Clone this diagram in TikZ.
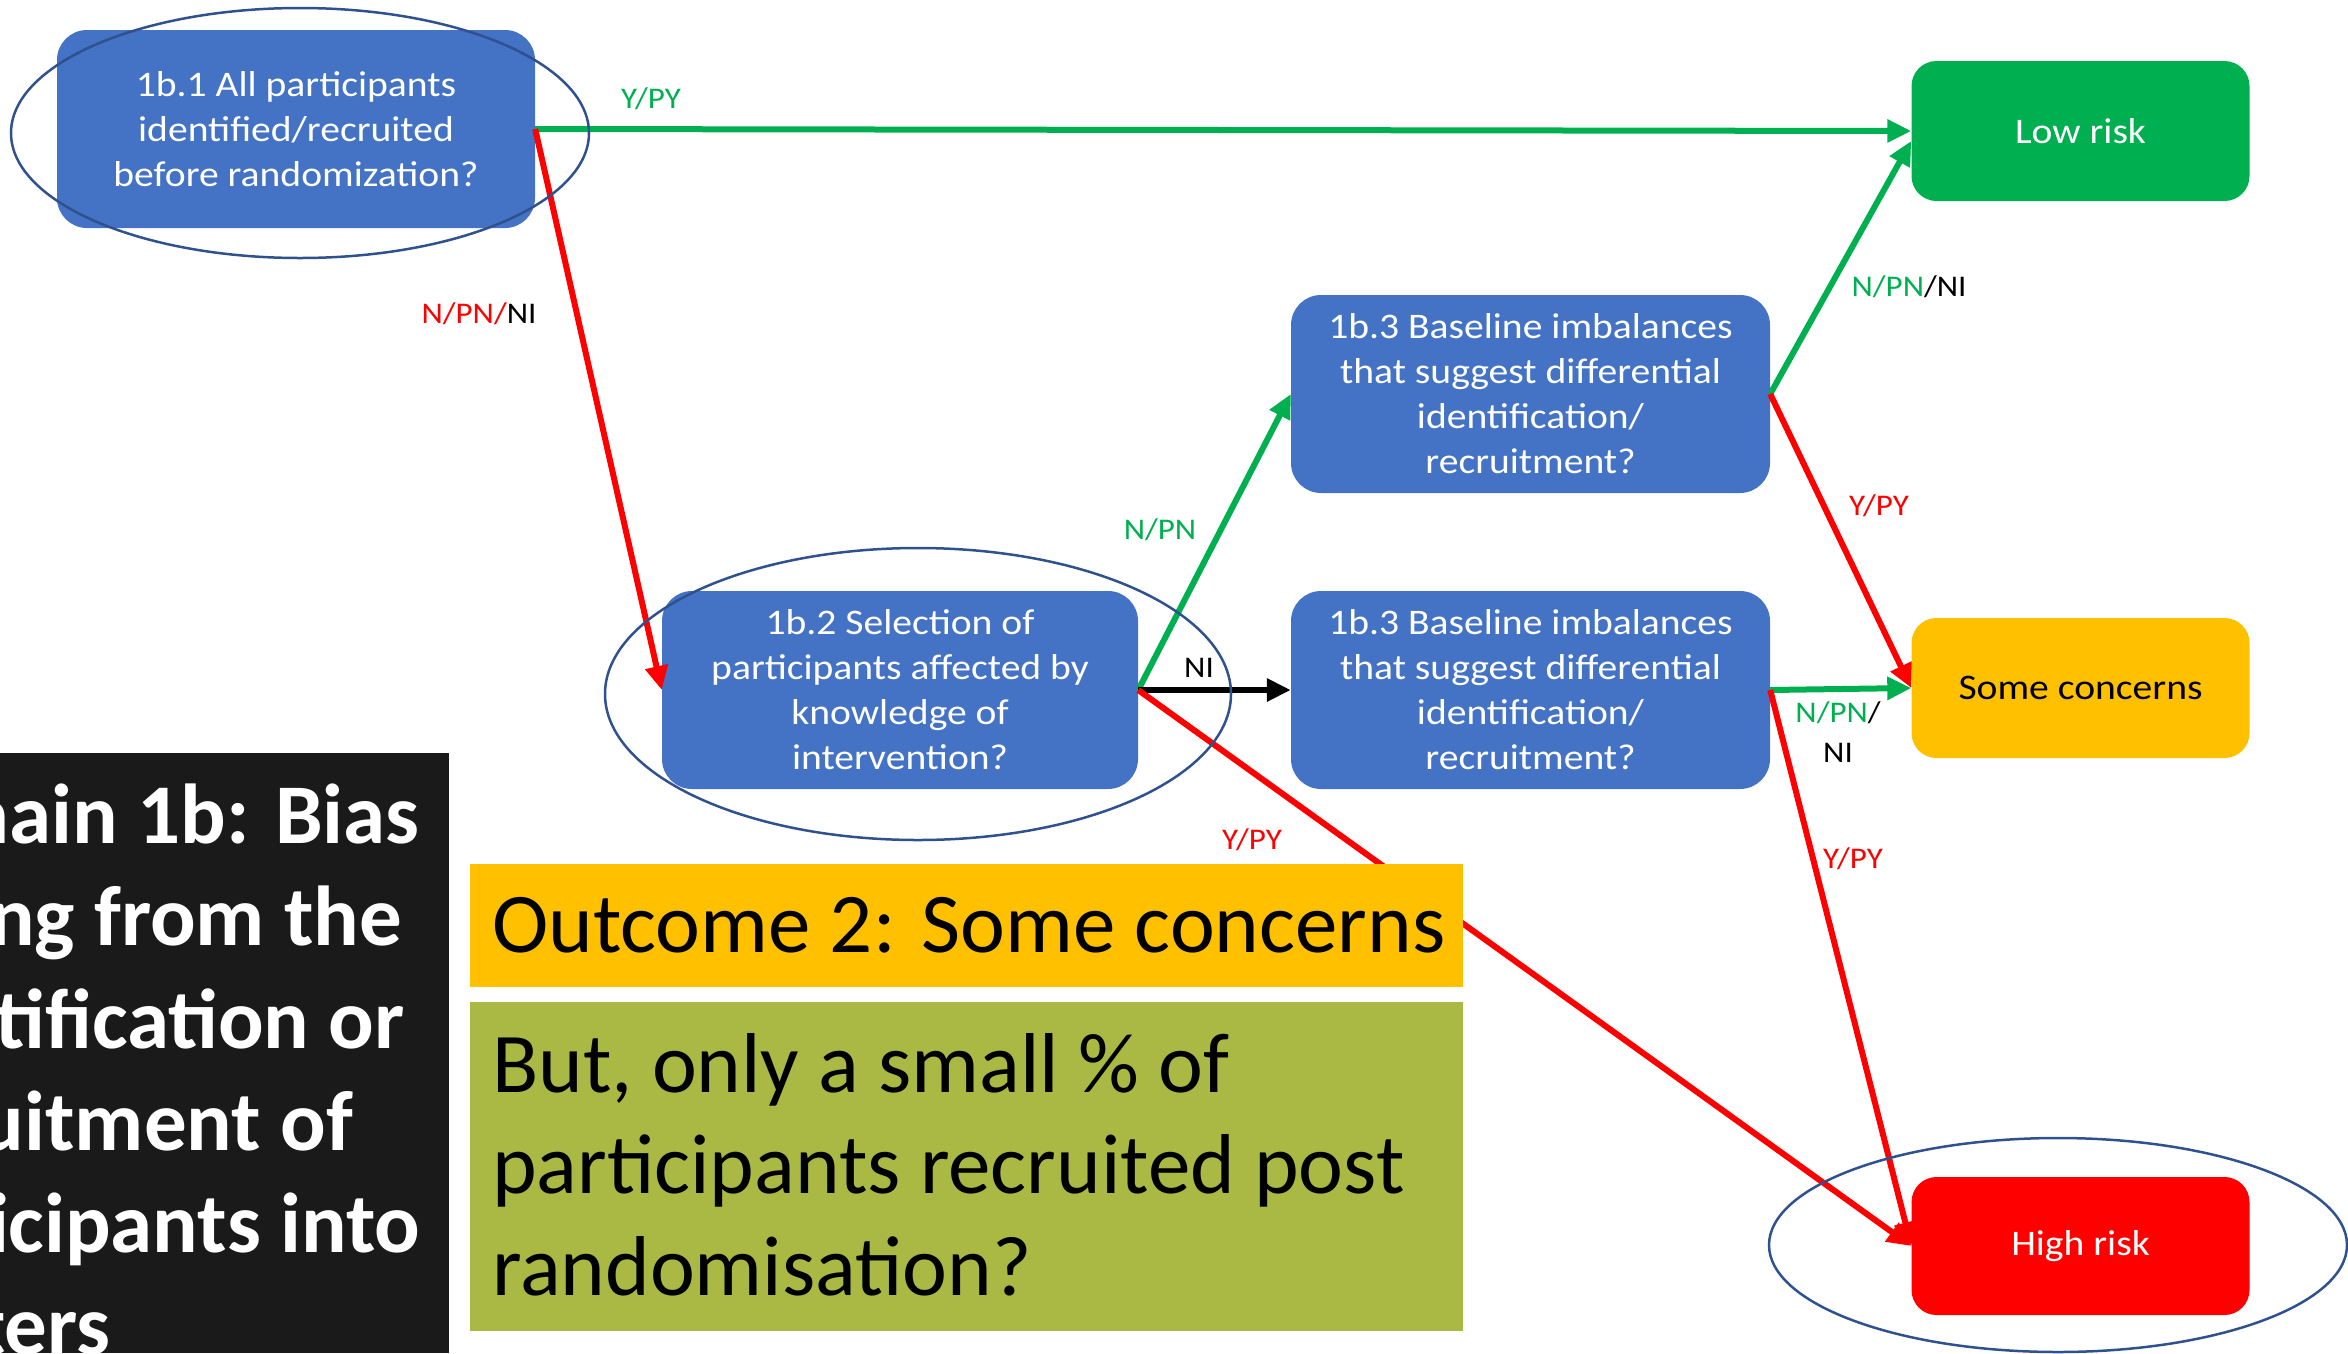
\documentclass[tikz,border=0pt]{standalone}
\usepackage{fontspec}
\setmainfont{Carlito}
\newfontfamily\boxfont[FakeStretch=1.1]{Carlito}
\usetikzlibrary{arrows.meta,shapes.geometric}

\definecolor{qblue}{HTML}{4472C4}
\definecolor{ringblue}{HTML}{2F528F}
\definecolor{okgreen}{HTML}{00B050}
\definecolor{alertred}{HTML}{FF0000}
\definecolor{amber}{HTML}{FFC000}
\definecolor{olivebox}{HTML}{A9B944}
\definecolor{panel}{HTML}{1A1A1A}

\begin{document}
\begin{tikzpicture}[x=1pt,y=-1pt,
  qbox/.style={fill=qblue, rounded corners=30pt, text=white, align=center,
    font=\boxfont\fontsize{36}{45}\selectfont,
    minimum width=478pt, minimum height=198pt, inner sep=0pt},
  riskbox/.style={fill=#1, rounded corners=25pt, align=center,
    font=\boxfont\fontsize{36}{45}\selectfont,
    minimum width=338pt, minimum height=140pt, inner sep=0pt},
  link/.style={line width=6pt, -{Triangle[length=24pt,width=22pt]}},
  lbl/.style={font=\boxfont\fontsize{30}{40}\selectfont, inner sep=0pt},
  ring/.style={draw=ringblue, line width=2.5pt, ellipse, inner sep=0pt},
  bigtext/.style={font=\fontsize{85}{102}\selectfont, inner sep=0pt, anchor=base west},
  paneltext/.style={font=\bfseries\fontsize{85}{102}\selectfont, text=white, inner sep=0pt, anchor=base west}
]
\useasboundingbox (0,0) rectangle (2348,1353);

% question boxes
\node[qbox] (b1) at (296,129) {1b.1 All participants\\identified/recruited\\before randomization?};
\node[qbox, minimum width=476pt] (b2) at (900,690) {1b.2 Selection of\\participants affected by\\knowledge of\\intervention?};
\node[qbox, minimum width=479pt] (t3) at (1530.5,394) {1b.3 Baseline imbalances\\that suggest differential\\identification/\\recruitment?};
\node[qbox, minimum width=479pt] (u3) at (1530.5,690) {1b.3 Baseline imbalances\\that suggest differential\\identification/\\recruitment?};

% judgement boxes
\node[riskbox=okgreen, text=white] (low) at (2080.5,131) {Low risk};
\node[riskbox=amber, text=black] (sc) at (2080.5,688) {Some concerns};
\node[riskbox=alertred, text=white, minimum height=138pt] (hr) at (2080.5,1246) {High risk};

% connectors
\draw[link, okgreen] (b1.east) -- (low.west);
\draw[link, alertred] (b1.east) -- (b2.west);
\draw[link, okgreen] (b2.east) -- (t3.west);
\draw[link, black] (b2.east) -- (u3.west);
\draw[link, alertred] (b2.east) -- (hr.west);
\draw[link, okgreen] (t3.east) -- ([yshift=-10pt]low.west);
\draw[link, alertred] (t3.east) -- (sc.west);
\draw[link, okgreen] (u3.east) -- (sc.west);
\draw[link, alertred] (u3.east) -- (hr.west);

% connector labels
\node[lbl, text=okgreen] (l1) at (651,99) {Y/PY};
\node[lbl] (l2) at (479,314) {\textcolor{alertred}{N/PN/}NI};
\node[lbl, text=okgreen] (l3) at (1160,530) {N/PN};
\node[lbl] (l4) at (1199,668) {NI};
\node[lbl, text=alertred] (l5) at (1252,840) {Y/PY};
\node[lbl] (l6) at (1909,287) {\textcolor{okgreen}{N/PN}/NI};
\node[lbl, text=alertred] (l7) at (1879,506) {Y/PY};
\node[lbl, align=center] (l8) at (1838,732) {\textcolor{okgreen}{N/PN}/\\NI};
\node[lbl, text=alertred] (l9) at (1853,859) {Y/PY};

% outcome panels
\node[fill=amber, anchor=north west, minimum width=993pt, minimum height=123pt, inner sep=0pt] (outc) at (470,864) {};
\node[bigtext] (outtxt) at (492,952) {Outcome 2: Some concerns};
\node[fill=olivebox, anchor=north west, minimum width=993pt, minimum height=329pt, inner sep=0pt] (note) at (470,1002) {};
\node[bigtext] (n1) at (492,1092) {But, only a small \% of};
\node[bigtext] (n2) at (492,1193) {participants recruited post};
\node[bigtext] (n3) at (492,1295) {randomisation?};

% domain title panel, its text running past the left and bottom edges
\node[fill=panel, anchor=north west, minimum width=449pt, minimum height=600pt, inner sep=0pt] (dom) at (0,753) {};
\begin{scope}
  \clip (dom.north west) rectangle (dom.south east);
  \node[paneltext] (d1) at (-159,843.5) {Domain 1b: Bias};
  \node[paneltext] (d2) at (-159,945) {arising from the};
  \node[paneltext] (d3) at (-159,1048) {identification or};
  \node[paneltext] (d4) at (-159,1150) {recruitment of};
  \node[paneltext] (d5) at (-159,1252) {participants into};
  \node[paneltext] (d6) at (-159,1354) {clusters};
\end{scope}

% highlight rings
\node[ring, minimum width=578pt, minimum height=250pt] (r1) at (300,133) {};
\node[ring, minimum width=626pt, minimum height=292pt] (r2) at (918,694) {};
\node[ring, minimum width=578pt, minimum height=214pt] (r3) at (2058,1245) {};
\end{tikzpicture}
\end{document}
